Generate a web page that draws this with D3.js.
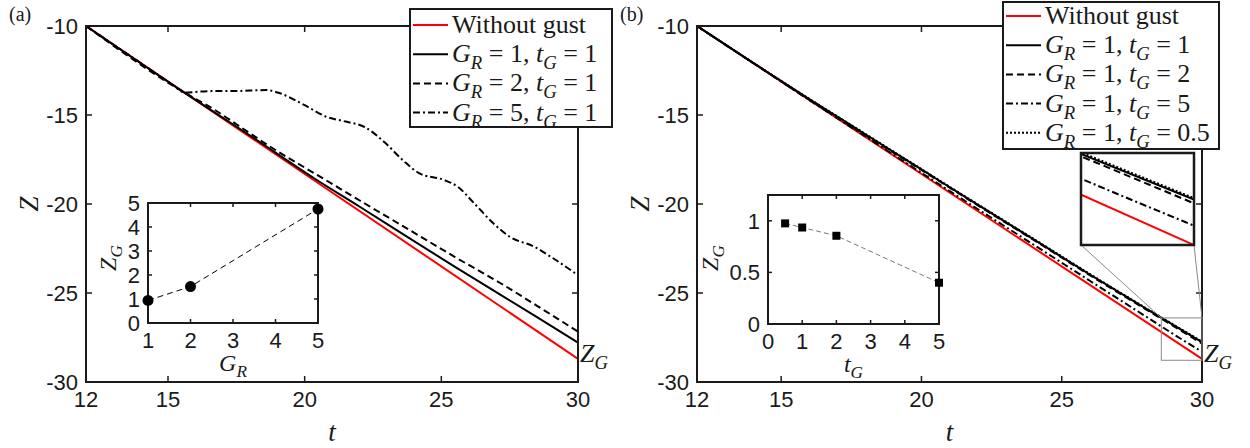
<!DOCTYPE html>
<html>
<head>
<meta charset="utf-8">
<script src="https://cdn.jsdelivr.net/npm/d3@7"></script>
<style>
  body { margin: 0; background: #fff; }
  svg { display: block; }
</style>
</head>
<body>
<div id="chart"></div>
<script>
// ---------- data ----------
const tTicks = [12, 15, 20, 25, 30];
const zTicks = [-30, -25, -20, -15, -10];

// reference case (no gust), both panels
const tRed = [12, 30];
const zRed = [-10, -28.7];

// panel (a): t_G = 1, varying G_R
const tA1 = [12, 15.6, 18, 20.4, 22, 23.9, 25.5, 27.2, 28.5, 30];
const zA1 = [-10, -13.74, -16.15, -18.61, -20.14, -21.99, -23.53, -25.13, -26.36, -27.79];
const tA2 = [12, 15.6, 16.5, 18, 18.7, 20.7, 22, 23.9, 25.5, 27.2, 28.5, 30];
const zA2 = [-10, -13.74, -14.52, -16.03, -16.74, -18.59, -19.79, -21.52, -22.98, -24.48, -25.72, -27.17];
const tA5 = [12, 14, 15.2, 15.6, 16.5, 17.5, 18.6, 19.1, 20, 20.8, 21.5, 22.2, 22.9, 23.6, 24.2, 25.1, 25.6, 26.2, 26.9, 27.5, 28.4, 29, 30];
const zA5 = [-10, -12.08, -13.33, -13.74, -13.66, -13.65, -13.6, -13.78, -14.45, -15.1, -15.37, -15.68, -16.5, -17.55, -18.28, -18.65, -19.03, -19.96, -21.08, -21.84, -22.4, -22.96, -24.0];

// panel (b): G_R = 1, varying t_G
const tB = [12, 14, 16, 18, 20, 22, 24, 26, 28, 29, 30];
const zB1 = [-10, -12.07, -14.11, -16.08, -18.06, -20.04, -21.99, -23.96, -25.87, -26.82, -27.76];
const zB2 = [-10, -12.078, -14.14, -16.13, -18.09, -20.07, -22.02, -24.0, -25.92, -26.87, -27.84];
const zB5 = [-10, -12.078, -14.156, -16.2, -18.25, -20.28, -22.29, -24.31, -26.32, -27.33, -28.30];
const zB05 = [-10, -12.06, -14.09, -16.06, -18.04, -20.01, -21.96, -23.93, -25.85, -26.79, -27.73];

// insets: Z_G at t = 30
const gR = [1, 2, 5];
const zGa = [0.94, 1.52, 4.75];
const tG = [0.5, 1, 2, 5];
const zGb = [0.975, 0.935, 0.855, 0.40];

// ---------- drawing ----------
const W = 1250, H = 448;
const ink = "#1a1a1a";
const serif = "'Liberation Serif', 'Times New Roman', serif";
const sans = "'Liberation Sans', Arial, sans-serif";

const svg = d3.select("#chart").append("svg")
  .attr("width", W).attr("height", H)
  .style("font-family", sans);

// text with italic letters and subscripts
function mathText(g, x, y, parts, size, anchor) {
  const t = g.append("text")
    .attr("x", x).attr("y", y)
    .attr("text-anchor", anchor || "start")
    .style("font-family", serif)
    .style("font-size", size + "px")
    .attr("fill", ink);
  let shift = 0;
  parts.forEach(p => {
    const want = p.sub ? size * 0.27 : 0;
    t.append("tspan")
      .attr("dy", want - shift)
      .style("font-size", (p.sub ? size * 0.72 : size) + "px")
      .style("font-style", p.i ? "italic" : "normal")
      .text(p.t);
    shift = want;
  });
  return t;
}

const styles = {
  red: { color: "#ff0000", dash: null },
  solid: { color: "#000", dash: null },
  dashed: { color: "#000", dash: "7,4" },
  dashdot: { color: "#000", dash: "7,3,2,3" },
  dotted: { color: "#000", dash: "2,2" }
};

function drawBox(g, x0, x1, y0, y1, w) {
  g.append("rect")
    .attr("x", x0).attr("y", y0)
    .attr("width", x1 - x0).attr("height", y1 - y0)
    .attr("fill", "none").attr("stroke", ink).attr("stroke-width", w);
}

function drawTicks(g, x, y, xt, yt, len) {
  const [x0, x1] = x.range();
  const [y1, y0] = y.range();
  xt.forEach(v => {
    g.append("line").attr("x1", x(v)).attr("x2", x(v)).attr("y1", y1).attr("y2", y1 - len).attr("stroke", ink).attr("stroke-width", 1.5);
    g.append("line").attr("x1", x(v)).attr("x2", x(v)).attr("y1", y0).attr("y2", y0 + len).attr("stroke", ink).attr("stroke-width", 1.5);
  });
  yt.forEach(v => {
    g.append("line").attr("x1", x0).attr("x2", x0 + len).attr("y1", y(v)).attr("y2", y(v)).attr("stroke", ink).attr("stroke-width", 1.5);
    g.append("line").attr("x1", x1).attr("x2", x1 - len).attr("y1", y(v)).attr("y2", y(v)).attr("stroke", ink).attr("stroke-width", 1.5);
  });
}

function drawTickLabels(g, x, y, xt, yt, xfmt, yfmt) {
  const [x0] = x.range();
  const [y1] = y.range();
  g.selectAll(null).data(xt).join("text")
    .attr("x", d => x(d)).attr("y", y1 + 25)
    .attr("text-anchor", "middle")
    .style("font-size", "22px").attr("fill", ink)
    .text(xfmt);
  g.selectAll(null).data(yt).join("text")
    .attr("x", x0 - 8).attr("y", d => y(d)).attr("dy", "0.36em")
    .attr("text-anchor", "end")
    .style("font-size", "22px").attr("fill", ink)
    .text(yfmt);
}

function drawPanel(cfg) {
  const g = svg.append("g");
  const x = d3.scaleLinear().domain([12, 30]).range([cfg.x0, cfg.x1]);
  const y = d3.scaleLinear().domain([-30, -10]).range([cfg.y1, cfg.y0]);
  const line = d3.line().x(d => x(d[0])).y(d => y(d[1])).curve(d3.curveMonotoneX);

  cfg.series.forEach(s => {
    g.append("path")
      .datum(d3.zip(s.t, s.z))
      .attr("d", line)
      .attr("fill", "none")
      .attr("stroke", styles[s.style].color)
      .attr("stroke-width", 2)
      .attr("stroke-dasharray", styles[s.style].dash);
  });

  drawTicks(g, x, y, tTicks, zTicks, 6);
  drawBox(g, cfg.x0, cfg.x1, cfg.y0, cfg.y1, 2);
  drawTickLabels(g, x, y, tTicks, zTicks, d => d, d => d);

  // axis labels
  g.append("text")
    .attr("transform", `translate(${cfg.x0 - 48},${(cfg.y0 + cfg.y1) / 2}) rotate(-90)`)
    .attr("text-anchor", "middle")
    .style("font-family", serif).style("font-style", "italic").style("font-size", "27px")
    .attr("fill", ink).text("Z");
  g.append("text")
    .attr("x", (cfg.x0 + cfg.x1) / 2).attr("y", 441)
    .attr("text-anchor", "middle")
    .style("font-family", serif).style("font-style", "italic").style("font-size", "27px")
    .attr("fill", ink).text("t");

  // Z_G marker at right edge
  mathText(g, cfg.x1 + 2, 362, [{ t: "Z", i: true }, { t: "G", i: true, sub: true }], 26);

  // panel tag
  g.append("text")
    .attr("x", cfg.tagX).attr("y", 21)
    .style("font-family", serif).style("font-size", "20px")
    .attr("fill", ink).text(cfg.tag);

  return { g, x, y, line };
}

function drawInset(cfg) {
  const g = svg.append("g");
  const x = d3.scaleLinear().domain(cfg.xd).range([cfg.x0, cfg.x1]);
  const y = d3.scaleLinear().domain(cfg.yd).range([cfg.y1, cfg.y0]);
  g.append("rect").attr("x", cfg.x0).attr("y", cfg.y0)
    .attr("width", cfg.x1 - cfg.x0).attr("height", cfg.y1 - cfg.y0).attr("fill", "#fff");
  const pts = d3.zip(cfg.xs, cfg.ys);
  g.append("path")
    .datum(pts)
    .attr("d", d3.line().x(d => x(d[0])).y(d => y(d[1])))
    .attr("fill", "none").attr("stroke", cfg.lineColor)
    .attr("stroke-width", 1).attr("stroke-dasharray", cfg.lineDash);
  drawTicks(g, x, y, cfg.xt, cfg.yt, 4);
  drawBox(g, cfg.x0, cfg.x1, cfg.y0, cfg.y1, 2);
  if (cfg.marker === "circle") {
    g.selectAll(null).data(pts).join("circle")
      .attr("cx", d => x(d[0])).attr("cy", d => y(d[1])).attr("r", 5.5).attr("fill", "#000");
  } else {
    g.selectAll(null).data(pts).join("rect")
      .attr("x", d => x(d[0]) - 4).attr("y", d => y(d[1]) - 4)
      .attr("width", 8).attr("height", 8).attr("fill", "#000");
  }
  drawTickLabels(g, x, y, cfg.xt, cfg.yt, d => d, d => d);
  mathText(g, (cfg.x0 + cfg.x1) / 2, cfg.y1 + 48, cfg.xlabel, 24, "middle");
  const yl = mathText(g, 0, 0, [{ t: "Z", i: true }, { t: "G", i: true, sub: true }], 24, "middle");
  yl.attr("transform", `translate(${cfg.ylabX},${cfg.ylabY}) rotate(-90)`);
}

function drawLegend(cfg) {
  const g = svg.append("g");
  g.append("rect")
    .attr("x", cfg.x).attr("y", cfg.y).attr("width", cfg.w).attr("height", cfg.h)
    .attr("fill", "#fff").attr("stroke", ink).attr("stroke-width", 2);
  cfg.items.forEach((it, i) => {
    const cy = cfg.y + cfg.first + i * cfg.step;
    g.append("line")
      .attr("x1", cfg.x + 3).attr("x2", cfg.x + 38).attr("y1", cy).attr("y2", cy)
      .attr("stroke", styles[it.style].color).attr("stroke-width", 2)
      .attr("stroke-dasharray", styles[it.style].dash);
    mathText(g, cfg.x + 42, cy + 8, it.label, 26);
  });
}

function paramLabel(a, b) {
  return [{ t: "G", i: true }, { t: "R", i: true, sub: true }, { t: " = " + a + ", " },
          { t: "t", i: true }, { t: "G", i: true, sub: true }, { t: " = " + b }];
}

// ----- panel (a) -----
drawPanel({
  x0: 86, x1: 578, y0: 26, y1: 382, tag: "(a)", tagX: 9,
  series: [
    { t: tRed, z: zRed, style: "red" },
    { t: tA1, z: zA1, style: "solid" },
    { t: tA2, z: zA2, style: "dashed" },
    { t: tA5, z: zA5, style: "dashdot" }
  ]
});

drawInset({
  x0: 148, x1: 318, y0: 203, y1: 323,
  xd: [1, 5], yd: [0, 5], xt: [1, 2, 3, 4, 5], yt: [0, 1, 2, 3, 4, 5],
  xs: gR, ys: zGa, marker: "circle", lineColor: "#000", lineDash: "6,4",
  xlabel: [{ t: "G", i: true }, { t: "R", i: true, sub: true }], ylabX: 116, ylabY: 258
});

drawLegend({
  x: 410, y: 9, w: 202, h: 118, first: 16, step: 29.2,
  items: [
    { style: "red", label: [{ t: "Without gust" }] },
    { style: "solid", label: paramLabel(1, 1) },
    { style: "dashed", label: paramLabel(2, 1) },
    { style: "dashdot", label: paramLabel(5, 1) }
  ]
});

// ----- panel (b) -----
const seriesB = [
  { t: tRed, z: zRed, style: "red" },
  { t: tB, z: zB1, style: "solid" },
  { t: tB, z: zB2, style: "dashed" },
  { t: tB, z: zB5, style: "dashdot" },
  { t: tB, z: zB05, style: "dotted" }
];
const pb = drawPanel({ x0: 697, x1: 1202, y0: 26, y1: 382, tag: "(b)", tagX: 620, series: seriesB });

// zoom rectangle and magnified view near t = 30
const zoomSrc = { t: [28.55, 30], z: [-28.78, -26.4] };
const zoomView = { t: [29, 30], z: [-28.7, -26.8] };
const mag = { x0: 1081, x1: 1194, y0: 153, y1: 245 };

pb.g.append("rect")
  .attr("x", pb.x(zoomSrc.t[0])).attr("y", pb.y(zoomSrc.z[1]))
  .attr("width", pb.x(zoomSrc.t[1]) - pb.x(zoomSrc.t[0]))
  .attr("height", pb.y(zoomSrc.z[0]) - pb.y(zoomSrc.z[1]))
  .attr("fill", "none").attr("stroke", "#8a8a8a").attr("stroke-width", 1);
pb.g.append("line")
  .attr("x1", mag.x0).attr("y1", mag.y1)
  .attr("x2", pb.x(zoomSrc.t[0])).attr("y2", pb.y(zoomSrc.z[1]))
  .attr("stroke", "#8a8a8a").attr("stroke-width", 1);
pb.g.append("line")
  .attr("x1", mag.x1).attr("y1", mag.y1)
  .attr("x2", pb.x(zoomSrc.t[1])).attr("y2", pb.y(zoomSrc.z[1]))
  .attr("stroke", "#8a8a8a").attr("stroke-width", 1);

const mx = d3.scaleLinear().domain(zoomView.t).range([mag.x0, mag.x1]);
const my = d3.scaleLinear().domain(zoomView.z).range([mag.y1, mag.y0]);
svg.append("clipPath").attr("id", "magclip")
  .append("rect").attr("x", mag.x0).attr("y", mag.y0)
  .attr("width", mag.x1 - mag.x0).attr("height", mag.y1 - mag.y0);
const mg = svg.append("g");
mg.append("rect").attr("x", mag.x0).attr("y", mag.y0)
  .attr("width", mag.x1 - mag.x0).attr("height", mag.y1 - mag.y0).attr("fill", "#fff");
const mline = d3.line().x(d => mx(d[0])).y(d => my(d[1])).curve(d3.curveMonotoneX);
const mgc = mg.append("g").attr("clip-path", "url(#magclip)");
seriesB.forEach(s => {
  mgc.append("path")
    .datum(d3.zip(s.t, s.z))
    .attr("d", mline)
    .attr("fill", "none")
    .attr("stroke", styles[s.style].color)
    .attr("stroke-width", 2)
    .attr("stroke-dasharray", styles[s.style].dash);
});
drawBox(mg, mag.x0, mag.x1, mag.y0, mag.y1, 2.5);

drawInset({
  x0: 768, x1: 939, y0: 195, y1: 324,
  xd: [0, 5], yd: [0, 1.25], xt: [0, 1, 2, 3, 4, 5], yt: [0, 0.5, 1],
  xs: tG, ys: zGb, marker: "square", lineColor: "#7a7a7a", lineDash: "5,3",
  xlabel: [{ t: "t", i: true }, { t: "G", i: true, sub: true }], ylabX: 718, ylabY: 258
});

drawLegend({
  x: 1003, y: 2, w: 216, h: 147, first: 14, step: 29.2,
  items: [
    { style: "red", label: [{ t: "Without gust" }] },
    { style: "solid", label: paramLabel(1, 1) },
    { style: "dashed", label: paramLabel(1, 2) },
    { style: "dashdot", label: paramLabel(1, 5) },
    { style: "dotted", label: paramLabel(1, 0.5) }
  ]
});
</script>
</body>
</html>
